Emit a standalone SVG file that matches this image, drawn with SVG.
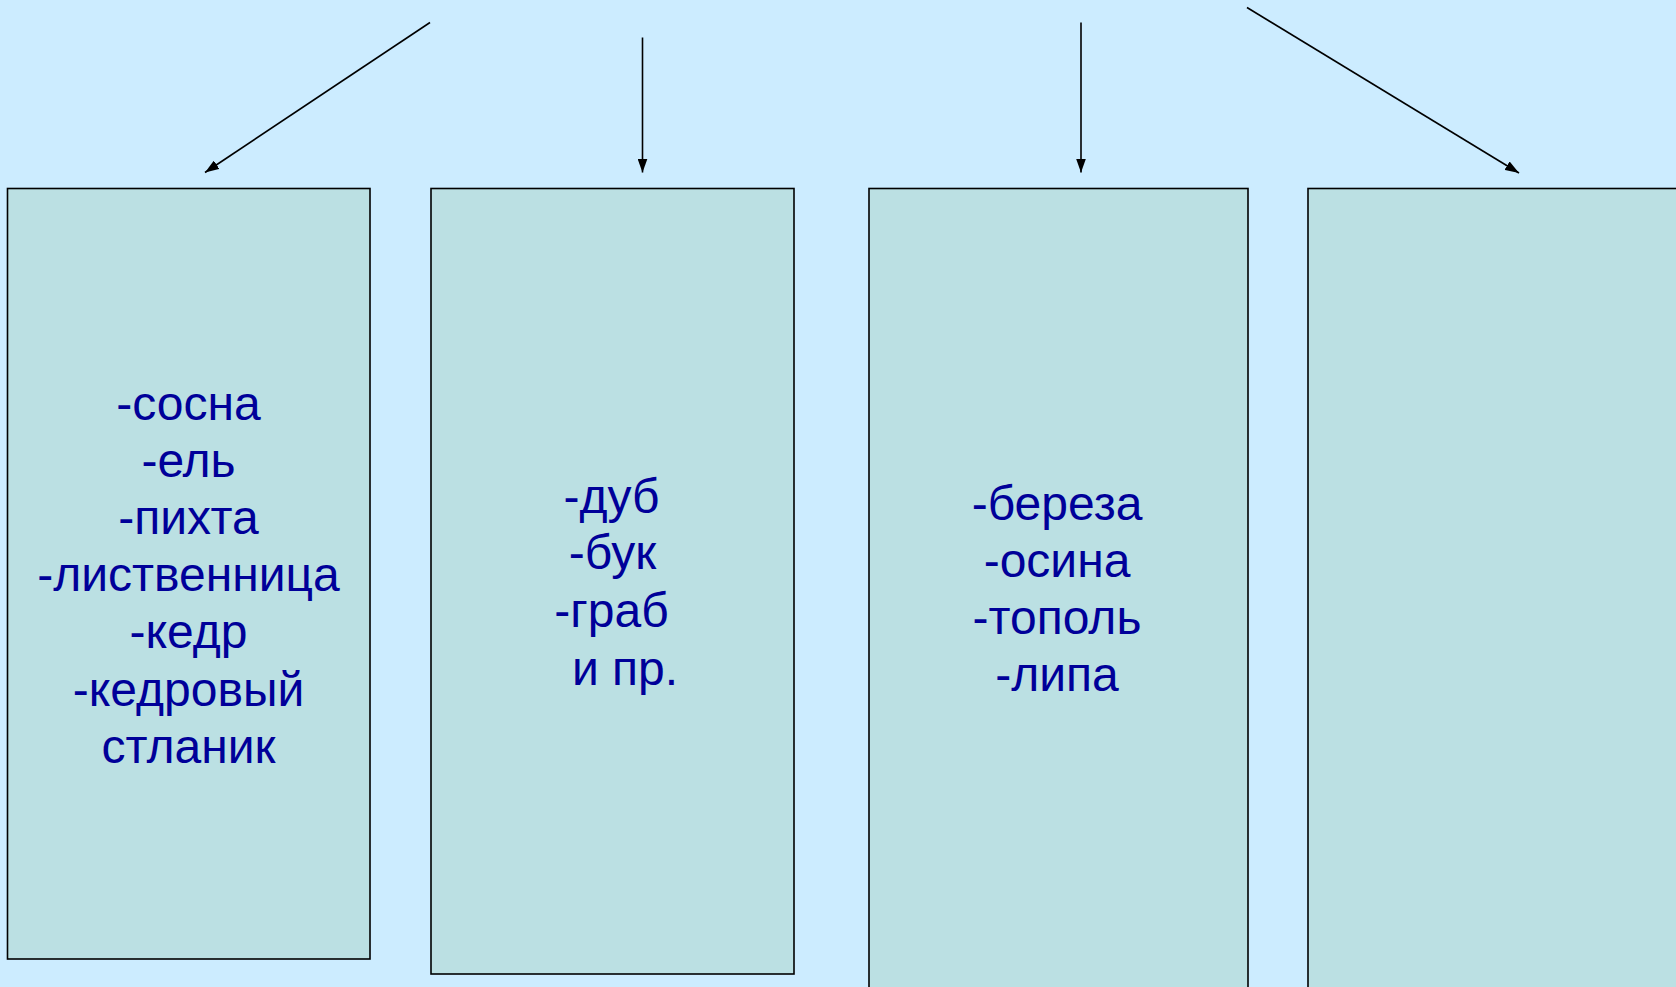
<svg xmlns="http://www.w3.org/2000/svg" width="1676" height="987" viewBox="0 0 1676 987">
<style>
.box{fill:#BBE0E3;stroke:#000;stroke-width:1.6}
.lbl{font-family:"Liberation Sans",Arial,sans-serif;font-size:48px;fill:#000099;text-anchor:middle}
.con{stroke:#000;stroke-width:1.6;fill:none;marker-end:url(#ah)}
</style>
<defs>
<marker id="ah" markerUnits="userSpaceOnUse" markerWidth="14" markerHeight="10" refX="14" refY="5" orient="auto">
<path d="M0,0 L14,5 L0,10 z" fill="#000"/>
</marker>
</defs>
<rect width="1676" height="987" fill="#CCECFF"/>
<g id="connectors">
<line class="con" x1="430" y1="22.5" x2="205" y2="172.5"/>
<line class="con" x1="642.5" y1="37.5" x2="642.5" y2="172.5"/>
<line class="con" x1="1081" y1="22.5" x2="1081" y2="172.5"/>
<line class="con" x1="1247" y1="7.5" x2="1519" y2="173"/>
</g>
<g id="box-conifers">
<rect class="box" x="7.5" y="188.5" width="362.5" height="770.5"/>
<text class="lbl" x="188.5" y="420">-сосна</text>
<text class="lbl" x="188.5" y="477">-ель</text>
<text class="lbl" x="188.5" y="534">-пихта</text>
<text class="lbl" x="188.5" y="591">-лиственница</text>
<text class="lbl" x="188.5" y="648">-кедр</text>
<text class="lbl" x="188.5" y="706">-кедровый</text>
<text class="lbl" x="188.5" y="763">стланик</text>
</g>
<g id="box-broadleaf">
<rect class="box" x="431" y="188.5" width="363" height="785.5"/>
<text class="lbl" x="611.5" y="513">-дуб</text>
<text class="lbl" x="612.5" y="569">-бук</text>
<text class="lbl" x="611.5" y="627">-граб</text>
<text class="lbl" x="625" y="685">и пр.</text>
</g>
<g id="box-smallleaf">
<rect class="box" x="869" y="188.5" width="379" height="820"/>
<text class="lbl" x="1057" y="520">-береза</text>
<text class="lbl" x="1057" y="577">-осина</text>
<text class="lbl" x="1057" y="634">-тополь</text>
<text class="lbl" x="1057" y="691">-липа</text>
</g>
<g id="box-empty">
<rect class="box" x="1308" y="188.5" width="400" height="820"/>
</g>
</svg>
